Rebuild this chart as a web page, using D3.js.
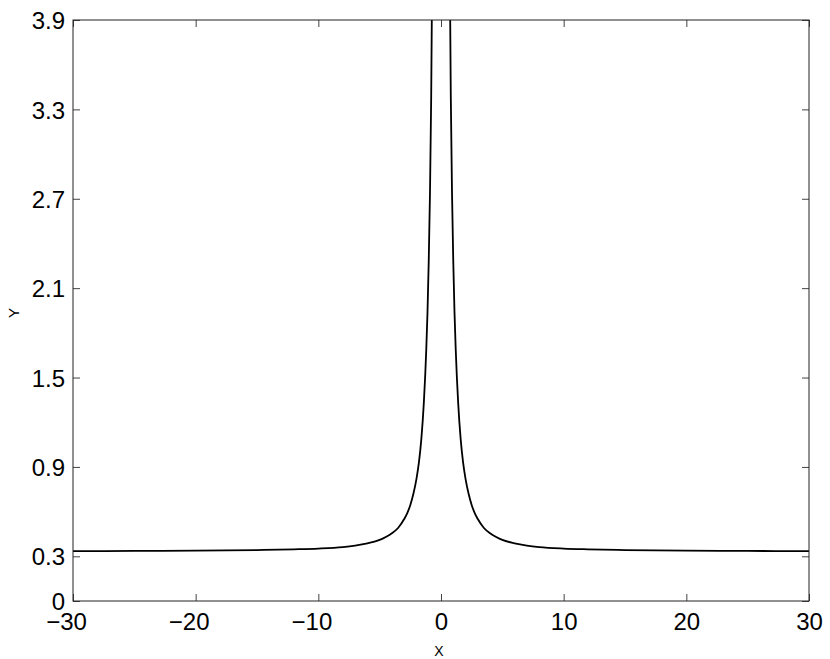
<!DOCTYPE html>
<html>
<head>
<meta charset="utf-8">
<script src="https://cdn.jsdelivr.net/npm/d3@7"></script>
<style>
  body { margin: 0; background: #fff; }
  text { font-family: "Liberation Sans", Arial, sans-serif; fill: #000; }
</style>
</head>
<body>
<div id="chart"></div>
<script>
// values
var leftX  = [-30, -25, -20, -15, -12, -10, -8, -7, -6, -5, -4.5, -4, -3.5, -3, -2.75, -2.5, -2.25, -2, -1.8, -1.6, -1.4, -1.2, -1.1, -1.0, -0.9, -0.8, -0.74];
var leftY  = [0.335, 0.336, 0.338, 0.342, 0.347, 0.352, 0.362, 0.372, 0.387, 0.41, 0.43, 0.455, 0.49, 0.55, 0.59, 0.645, 0.72, 0.82, 0.93, 1.09, 1.33, 1.69, 1.94, 2.28, 2.73, 3.38, 4.0];
var rightX = [0.74, 0.8, 0.9, 1.0, 1.1, 1.2, 1.4, 1.6, 1.8, 2, 2.25, 2.5, 2.75, 3, 3.5, 4, 4.5, 5, 6, 7, 8, 10, 12, 15, 20, 25, 30];
var rightY = [4.0, 3.38, 2.73, 2.28, 1.94, 1.69, 1.33, 1.09, 0.93, 0.82, 0.72, 0.645, 0.59, 0.55, 0.49, 0.455, 0.43, 0.41, 0.387, 0.372, 0.362, 0.352, 0.347, 0.342, 0.338, 0.336, 0.335];
var xTicks = [-30, -20, -10, 0, 10, 20, 30];
var yTicks = [0, 0.3, 0.9, 1.5, 2.1, 2.7, 3.3, 3.9];

var W = 830, H = 659;
var margin = {top: 20, right: 21, bottom: 58, left: 73},
    width = W - margin.left - margin.right,
    height = H - margin.top - margin.bottom;

var svg = d3.select("#chart").append("svg")
    .attr("width", W)
    .attr("height", H);

var g = svg.append("g")
    .attr("transform", "translate(" + margin.left + "," + margin.top + ")");

var x = d3.scaleLinear().domain([-30, 30]).range([0, width]);
var y = d3.scaleLinear().domain([0, 3.9]).range([height, 0]);

// clip for the curve
g.append("clipPath").attr("id", "clip")
  .append("rect").attr("width", width).attr("height", height);

var line = d3.line()
    .x(function(d) { return x(d[0]); })
    .y(function(d) { return y(d[1]); })
    .curve(d3.curveMonotoneX);

var branches = [
  leftX.map(function(v, i) { return [v, leftY[i]]; }),
  rightX.map(function(v, i) { return [v, rightY[i]]; })
];

g.append("g").attr("clip-path", "url(#clip)")
  .selectAll("path.curve")
  .data(branches)
  .enter().append("path")
  .attr("class", "curve")
  .attr("d", line)
  .attr("fill", "none")
  .attr("stroke", "#000")
  .attr("stroke-width", 1.8);

// axes: inward ticks, mirrored on top and right
function styleAxis(sel) {
  sel.select(".domain").remove();
  sel.selectAll(".tick line").attr("stroke", "#444");
  sel.selectAll("text").style("font-size", "24px").attr("fill", "#000");
}

g.append("g")
  .attr("transform", "translate(0," + height + ")")
  .call(d3.axisBottom(x).tickValues(xTicks).tickSize(-7).tickPadding(12)
        .tickFormat(function(d) { return d < 0 ? "\u2212" + Math.abs(d) : d; }))
  .call(styleAxis)
  .selectAll("text")
    .attr("dy", "0.71em")
    // digits centred on the tick, minus sign hangs to the left
    .attr("dx", function(d) { return d < 0 ? "-0.29em" : 0; });

g.append("g")
  .call(d3.axisTop(x).tickValues(xTicks).tickSize(-7).tickFormat(""))
  .call(styleAxis);

g.append("g")
  .call(d3.axisLeft(y).tickValues(yTicks).tickSize(-7).tickPadding(8)
        .tickFormat(function(d) { return d === 0 ? "0" : d3.format(".1f")(d); }))
  .call(styleAxis)
  .selectAll("text").attr("dy", "0.36em");

g.append("g")
  .attr("transform", "translate(" + width + ",0)")
  .call(d3.axisRight(y).tickValues(yTicks).tickSize(-7).tickFormat(""))
  .call(styleAxis);

// frame
g.append("rect")
  .attr("width", width)
  .attr("height", height)
  .attr("fill", "none")
  .attr("stroke", "#222")
  .attr("stroke-width", 1);

// axis labels
svg.append("text")
  .attr("x", margin.left + x(0) - 2)
  .attr("y", 656)
  .attr("text-anchor", "middle")
  .style("font-size", "14px")
  .text("X");

svg.append("text")
  .attr("transform", "translate(19," + 313 + ") rotate(-90)")
  .attr("text-anchor", "middle")
  .style("font-size", "15px")
  .text("Y");
</script>
</body>
</html>
